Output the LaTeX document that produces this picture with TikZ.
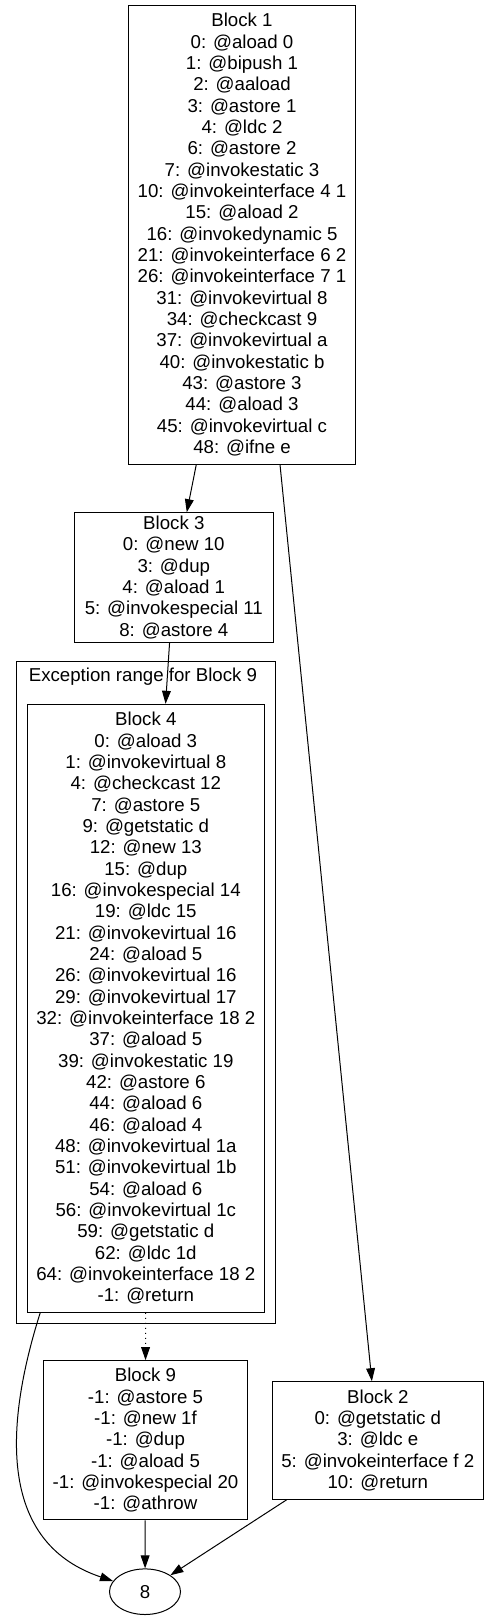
\documentclass[tikz,border=0pt]{standalone}
\usepackage{fontspec}
\setmainfont{Liberation Sans}
\usepackage{tikz}
\usetikzlibrary{arrows.meta,shapes.geometric}

\begin{document}
\begin{tikzpicture}[x=1pt,y=-1pt,font=\fontsize{18.67}{21.33}\selectfont,
 >={Triangle[length=13pt,width=8.8pt]},line width=1pt,
 blk/.style={draw,align=center,inner xsep=4pt,inner ysep=0pt},
 exc/.style={draw,inner sep=0pt},
 term/.style={draw,ellipse,inner sep=0pt,minimum width=71pt,minimum height=45.6pt},
 e/.style={->}]
\useasboundingbox (0,0) rectangle (488,1621);
\node[blk,minimum width=227.4pt,minimum height=458.7pt] (b1) at (242,234.7)
 {Block 1\\0: @aload 0\\1: @bipush 1\\2: @aaload\\3: @astore 1\\4: @ldc 2\\
  6: @astore 2\\7: @invokestatic 3\\10: @invokeinterface 4 1\\15: @aload 2\\
  16: @invokedynamic 5\\21: @invokeinterface 6 2\\26: @invokeinterface 7 1\\
  31: @invokevirtual 8\\34: @checkcast 9\\37: @invokevirtual a\\40: @invokestatic b\\
  43: @astore 3\\44: @aload 3\\45: @invokevirtual c\\48: @ifne e};
\node[blk,minimum width=199pt,minimum height=129.6pt] (b3) at (173.8,577.5)
 {Block 3\\0: @new 10\\3: @dup\\4: @aload 1\\5: @invokespecial 11\\8: @astore 4};
% exception range
\node[exc,minimum width=259.4pt,minimum height=661.6pt] (rng) at (146,992.5) {};
\node (rnglab) at (143,676.7) {Exception range for Block 9};
\node[blk,minimum width=237pt,minimum height=608pt] (b4) at (145.8,1008.3)
 {Block 4\\0: @aload 3\\1: @invokevirtual 8\\4: @checkcast 12\\7: @astore 5\\
  9: @getstatic d\\12: @new 13\\15: @dup\\16: @invokespecial 14\\19: @ldc 15\\
  21: @invokevirtual 16\\24: @aload 5\\26: @invokevirtual 16\\29: @invokevirtual 17\\
  32: @invokeinterface 18 2\\37: @aload 5\\39: @invokestatic 19\\42: @astore 6\\
  44: @aload 6\\46: @aload 4\\48: @invokevirtual 1a\\51: @invokevirtual 1b\\
  54: @aload 6\\56: @invokevirtual 1c\\59: @getstatic d\\62: @ldc 1d\\
  64: @invokeinterface 18 2\\-1: @return};
\node[blk,minimum width=203.6pt,minimum height=159.3pt] (b9) at (145.5,1440.3)
 {Block 9\\-1: @astore 5\\-1: @new 1f\\-1: @dup\\-1: @aload 5\\
  -1: @invokespecial 20\\-1: @athrow};
\node[blk,minimum width=211pt,minimum height=117.6pt] (b2) at (377.8,1440.5)
 {Block 2\\0: @getstatic d\\3: @ldc e\\5: @invokeinterface f 2\\10: @return};
\node[term] (n8) at (145,1591.7) {8};
% edges
\draw[e] (b1) -- (b3);
\draw[e] ([xshift=38pt]b1.south) -- (b2);
\draw[e] (b3) -- (b4);
\draw[e,dash pattern=on 1pt off 4pt] (b4) -- (b9);
\draw[e] ([xshift=13.4pt]b4.south west) .. controls (0,1440) and (5,1545) .. (n8);
\draw[e] (b9) -- (n8);
\draw[e] (b2) -- (n8);
\end{tikzpicture}
\end{document}
